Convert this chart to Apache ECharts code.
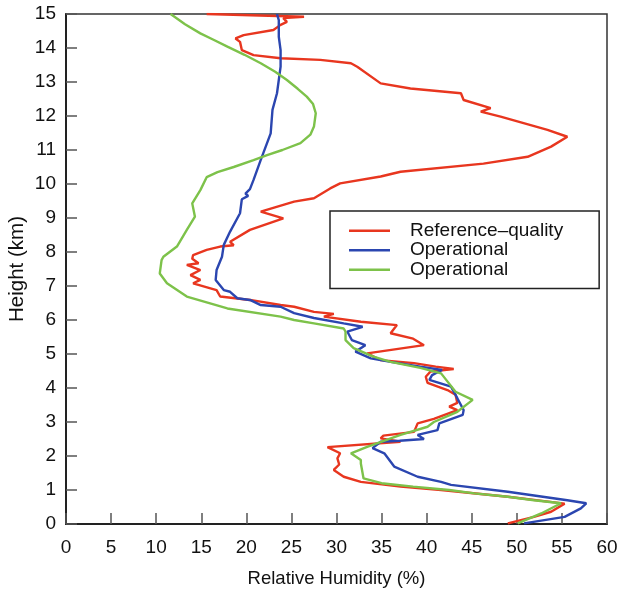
<!DOCTYPE html>
<html>
<head>
<meta charset="utf-8">
<script src="https://cdn.jsdelivr.net/npm/echarts@6/dist/echarts.min.js"></script>
<style>
html,body{margin:0;padding:0;background:#fff;}
#chart{width:617px;height:591px;}
</style>
</head>
<body>
<div id="chart"></div>
<script>
// Height (km), Relative Humidity (%)
var xTicks = [0,5,10,15,20,25,30,35,40,45,50,55,60];
var yTicks = [0,1,2,3,4,5,6,7,8,9,10,11,12,13,14,15];
var seriesNames = ['Reference\u2013quality', 'Operational', 'Operational '];

var referenceProfile = [
[0.02,49],[0.21,51.9],[0.36,53.8],[0.6,55.3],[0.8,49],[1.0,41.6],[1.1,37.1],[1.24,32.7],[1.39,30.8],[1.59,29.7],[1.75,30.3],[1.93,30.1],[2.08,30.4],[2.26,29],[2.42,37.1],[2.52,34.9],[2.6,35.2],[2.71,38.6],[2.96,39],[3.09,40.8],[3.35,43.4],[3.45,42.5],[3.56,43.4],[3.8,43.2],[3.94,42.3],[4.15,40.1],[4.33,39.9],[4.48,40.4],[4.56,43],[4.63,41],[4.73,38.6],[4.82,34.9],[5.02,33.4],[5.26,39.7],[5.45,38.5],[5.61,36],[5.85,36.7],[5.95,32.7],[6.1,28.6],[6.18,29.7],[6.24,27.5],[6.39,25.3],[6.44,23.8],[6.59,20.4],[6.69,17.1],[6.88,16.7],[7.08,14.1],[7.18,14.9],[7.32,13.8],[7.47,14.9],[7.62,13.4],[7.67,14.7],[7.8,14],[7.91,14.1],[8.06,15.6],[8.16,17.1],[8.2,18.6],[8.3,18.2],[8.65,20.4],[8.99,24.1],[9.19,21.6],[9.48,25.3],[9.58,27.5],[9.87,29.3],[10.02,30.4],[10.22,34.9],[10.36,37.1],[10.6,46.3],[10.8,51.2],[11.1,53.8],[11.39,55.6],[11.59,53.4],[11.98,48.2],[12.13,46],[12.23,47.1],[12.47,44.1],[12.67,43.8],[12.81,38.2],[12.96,34.9],[13.45,32.3],[13.55,31.6],[13.65,28.2],[13.7,23.8],[13.79,20.8],[13.94,19.5],[14.18,19.3],[14.28,18.8],[14.38,19.7],[14.53,23],[14.68,23.8],[14.77,24.5],[14.88,24.1],[14.92,26.4],[15.0,15.6]
];

var operational1Profile = [
[0.02,50.8],[0.21,55.3],[0.46,57.1],[0.61,57.7],[0.7,55.6],[0.95,49],[1.15,42.7],[1.24,41.6],[1.39,39],[1.69,36.4],[2.08,35.3],[2.23,34],[2.42,34.9],[2.45,37],[2.5,39.7],[2.62,39],[2.76,41.2],[2.96,41.4],[3.21,44],[3.35,44.1],[3.7,43.4],[4.04,42.7],[4.24,40.3],[4.38,40.6],[4.53,41.7],[4.63,39.3],[4.77,36],[4.87,33.8],[5.07,32.1],[5.26,33.2],[5.41,31.7],[5.66,31.2],[5.8,32.9],[5.9,30.8],[6.06,27.5],[6.2,25.3],[6.39,23.8],[6.44,21.6],[6.59,20.4],[6.64,19],[6.83,18.2],[6.88,17.5],[7.18,16.6],[7.47,16.7],[7.86,17.3],[8.21,17.5],[8.6,18.2],[9.14,19.3],[9.55,19.5],[9.65,20.2],[9.72,19.9],[9.85,20.4],[10.12,20.8],[10.71,21.6],[11.49,22.7],[12.18,22.9],[12.67,23.4],[13.45,23.8],[13.94,23.8],[14.33,23.6],[14.82,23.6],[15,23.4]
];

var operational2Profile = [
[0.02,50.1],[0.31,52.7],[0.61,54.9],[0.7,51.9],[0.8,49],[0.9,45.3],[1.0,42.5],[1.1,38.5],[1.2,35],[1.34,33],[1.78,32.7],[1.88,32.7],[2.08,31.6],[2.27,33.4],[2.62,37.1],[2.86,40.1],[3.0,40.8],[3.3,43.4],[3.65,45.1],[3.89,43.2],[4.43,41.6],[4.59,39.3],[4.77,36],[4.92,34.1],[5.17,31.9],[5.41,31],[5.66,31],[5.75,30.8],[5.9,27.5],[6.0,25.3],[6.1,23.8],[6.34,17.9],[6.69,13.4],[7.08,11.2],[7.37,10.4],[7.76,10.6],[7.86,10.8],[8.16,12.3],[8.65,13.4],[9.04,14.3],[9.43,14],[9.82,14.9],[10.2,15.6],[10.35,16.8],[10.5,18.6],[10.7,20.8],[10.85,22.3],[11.0,24],[11.2,26],[11.45,27.1],[11.69,27.5],[12.08,27.7],[12.35,27.4],[12.57,26.7],[12.8,25.7],[13.06,24.5],[13.3,23.2],[13.55,21.6],[13.8,19.8],[14.04,17.9],[14.25,16.3],[14.43,14.9],[14.7,13.2],[15,11.6]
];

var colors = ['#e8361f', '#2b46b0', '#7dc24a'];

function toXY(profile) {
  return profile.map(function (p) { return [p[1], p[0]]; });
}

var chart = echarts.init(document.getElementById('chart'), null, {renderer: 'canvas'});
var font = '"Liberation Sans", Arial, Helvetica, sans-serif';

chart.setOption({
  animation: false,
  backgroundColor: '#fff',
  textStyle: {fontFamily: font},
  grid: {left: 66, right: 10, top: 14, bottom: 67, containLabel: false, outerBoundsMode: 'none', show: true, borderColor: '#333', borderWidth: 1.5, backgroundColor: 'transparent'},
  legend: {
    orient: 'vertical',
    left: 330, top: 211,
    padding: [10, 36, 9, 19],
    icon: 'rect',
    itemWidth: 41, itemHeight: 2.5, itemGap: 0,
    borderColor: '#222', borderWidth: 1.5,
    selectedMode: false,
    textStyle: {fontFamily: font, fontSize: 19, color: '#111', lineHeight: 19.5, padding: [0, 0, 0, 15]},
    data: seriesNames
  },
  xAxis: {
    type: 'value', min: xTicks[0], max: xTicks[xTicks.length - 1], interval: 5,
    name: 'Relative Humidity (%)', nameLocation: 'middle', nameGap: 45, nameMoveOverlap: false,
    nameTextStyle: {fontFamily: font, fontSize: 18.5, color: '#111'},
    axisLine: {show: true, lineStyle: {color: '#222', width: 2}},
    axisTick: {show: true, inside: true, length: 11, lineStyle: {color: '#555', width: 1.5}},
    axisLabel: {fontFamily: font, fontSize: 19, color: '#111', margin: 14},
    splitLine: {show: false}
  },
  yAxis: {
    type: 'value', min: yTicks[0], max: yTicks[yTicks.length - 1], interval: 1,
    name: 'Height (km)', nameLocation: 'middle', nameGap: 38, nameRotate: 90, nameMoveOverlap: false,
    nameTextStyle: {fontFamily: font, fontSize: 20.5, color: '#111'},
    axisLine: {show: true, lineStyle: {color: '#222', width: 2}},
    axisTick: {show: true, inside: true, length: 11, lineStyle: {color: '#555', width: 1.5}},
    axisLabel: {fontFamily: font, fontSize: 19, color: '#111', margin: 10},
    splitLine: {show: false}
  },
  series: [
    {name: seriesNames[0], type: 'line', symbol: 'none', data: toXY(referenceProfile), lineStyle: {color: colors[0], width: 2.4}, itemStyle: {color: colors[0]}, z: 2},
    {name: seriesNames[1], type: 'line', symbol: 'none', data: toXY(operational1Profile), lineStyle: {color: colors[1], width: 2.4}, itemStyle: {color: colors[1]}, z: 3},
    {name: seriesNames[2], type: 'line', symbol: 'none', data: toXY(operational2Profile), lineStyle: {color: colors[2], width: 2.4}, itemStyle: {color: colors[2]}, z: 4}
  ]
});
</script>
</body>
</html>
